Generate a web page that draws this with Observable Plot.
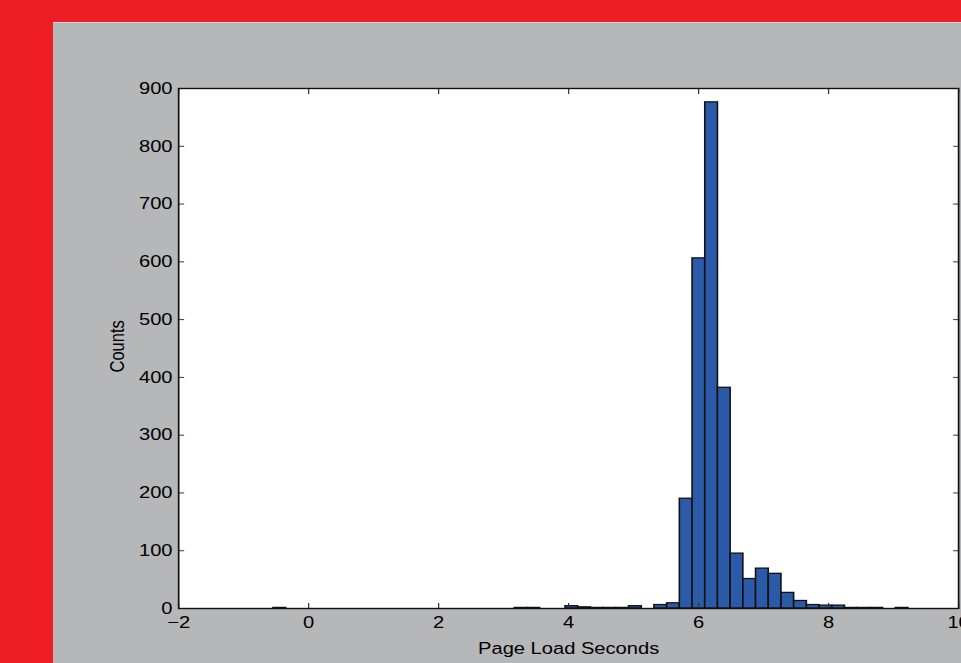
<!DOCTYPE html>
<html>
<head>
<meta charset="utf-8">
<script src="https://cdn.jsdelivr.net/npm/d3@7"></script>
<script src="https://cdn.jsdelivr.net/npm/@observablehq/plot@0.6"></script>
<style>
  html, body { margin: 0; padding: 0; width: 961px; height: 663px; overflow: hidden; background: #ee1d26; }
  #panel { position: absolute; left: 53px; top: 22px; width: 908px; height: 641px; background: #b6b7b9; border-top: 1px solid #d4d5d6; overflow: hidden; }
  #chart { position: absolute; left: 0; top: 0; transform: scaleX(1.22); transform-origin: 0 0; }
  #chart svg { overflow: visible; max-width: none; }
</style>
</head>
<body>
<div id="panel"><div id="chart"></div></div>
<script>
// Histogram of page load times (50 bins)
const binLow = -0.54;
const binWidth = 0.1954;
const counts = [
  1, 0, 0, 0, 0, 0, 0, 0, 0, 0,
  0, 0, 0, 0, 0, 0, 0, 0, 0, 1,
  1, 0, 0, 4, 2, 1, 1, 1, 4, 0,
  6, 9, 190, 606, 876, 382, 95, 51, 69, 60,
  27, 13, 6, 5, 5, 1, 1, 1, 0, 1
];
const xTicks = [-2, 0, 2, 4, 6, 8, 10];
const yTicks = [0, 100, 200, 300, 400, 500, 600, 700, 800, 900];
const xLabel = "Page Load Seconds";
const yLabel = "Counts";

const bins = counts.map((c, k) => ({x1: binLow + k * binWidth, x2: binLow + (k + 1) * binWidth, count: c}));

const font = "'Liberation Sans', Arial, sans-serif";
const chart = Plot.plot({
  width: 744,
  height: 640,
  marginLeft: 102.5,
  marginRight: 2.2,
  marginTop: 65,
  marginBottom: 55,
  style: {background: "transparent", fontFamily: font, fontSize: "16.5px", color: "black", overflow: "visible"},
  x: {domain: [-2, 10]},
  y: {domain: [0, 900]},
  marks: [
    Plot.frame({fill: "white", stroke: null}),
    Plot.rectY(bins, {x1: "x1", x2: "x2", y1: 0, y2: "count", fill: "#2a5aa8", stroke: "#111", strokeWidth: 1.3}),
    Plot.axisX(xTicks, {anchor: "bottom", tickSize: -5, tickFormat: () => "", label: null, stroke: "#333"}),
    Plot.axisX(xTicks, {anchor: "top", tickSize: -5, tickFormat: () => "", label: null, stroke: "#333"}),
    Plot.axisY(yTicks, {anchor: "left", tickSize: -5, tickFormat: () => "", label: null, stroke: "#333"}),
    Plot.axisY(yTicks, {anchor: "right", tickSize: -5, tickFormat: () => "", label: null, stroke: "#333"}),
    Plot.axisX(xTicks, {anchor: "bottom", tickSize: 0, tickPadding: 8, label: null, fill: "black", fontSize: 16.5, tickFormat: d => d < 0 ? "\u2212" + Math.abs(d) : String(d)}),
    Plot.axisY(yTicks, {anchor: "left", tickSize: 0, tickPadding: 5, label: null, fill: "black", fontSize: 16.5}),
    Plot.frame({stroke: "#111", strokeWidth: 1.4}),
    Plot.text([xLabel], {frameAnchor: "bottom", dy: 45, fontSize: 16.5, fill: "black"}),
    Plot.text([yLabel], {frameAnchor: "left", dx: -50, dy: 24, rotate: -90, fontSize: 16.5, fill: "black"})
  ]
});
document.getElementById("chart").appendChild(chart);
</script>
</body>
</html>
